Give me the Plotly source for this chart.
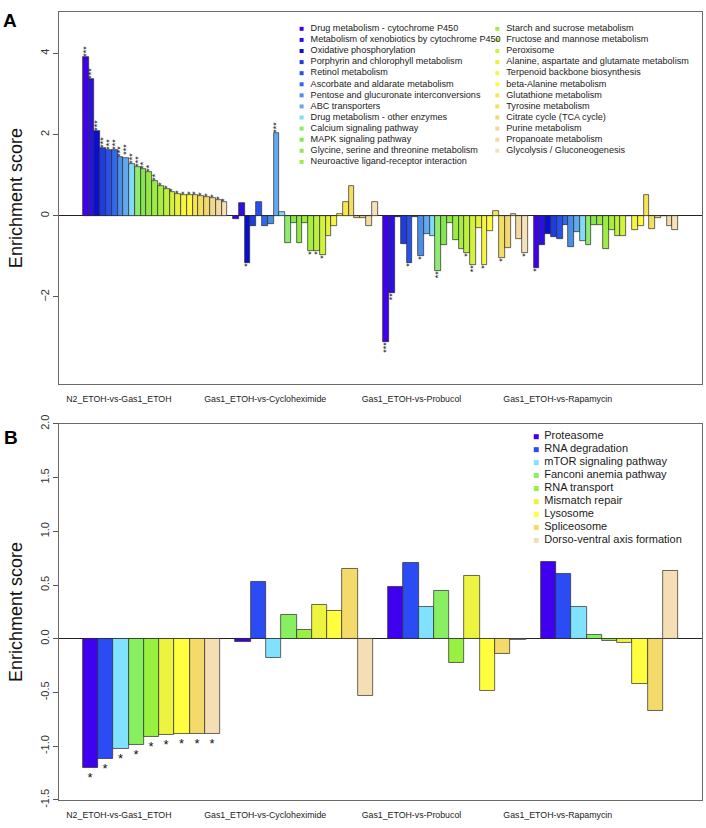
import plotly.graph_objects as go

# ---------------- data ----------------
groups = ["N2_ETOH-vs-Gas1_ETOH", "Gas1_ETOH-vs-Cycloheximide",
          "Gas1_ETOH-vs-Probucol", "Gas1_ETOH-vs-Rapamycin"]

pathways_a = [
    "Drug metabolism - cytochrome P450",
    "Metabolism of xenobiotics by cytochrome P450",
    "Oxidative phosphorylation",
    "Porphyrin and chlorophyll metabolism",
    "Retinol metabolism",
    "Ascorbate and aldarate metabolism",
    "Pentose and glucuronate interconversions",
    "ABC transporters",
    "Drug metabolism - other enzymes",
    "Calcium signaling pathway",
    "MAPK signaling pathway",
    "Glycine, serine and threonine metabolism",
    "Neuroactive ligand-receptor interaction",
    "Starch and sucrose metabolism",
    "Fructose and mannose metabolism",
    "Peroxisome",
    "Alanine, aspartate and glutamate metabolism",
    "Terpenoid backbone biosynthesis",
    "beta-Alanine metabolism",
    "Glutathione metabolism",
    "Tyrosine metabolism",
    "Citrate cycle (TCA cycle)",
    "Purine metabolism",
    "Propanoate metabolism",
    "Glycolysis / Gluconeogenesis",
]
colors_a = [
    "#4000F0", "#2A10E6", "#0A0ED2", "#1E3CE0", "#2850EE", "#3068EE",
    "#4A8EE8", "#62AAF0", "#82DAF8", "#8EEA70", "#86E650", "#92E848",
    "#9CEC44", "#A8EE40", "#BEF040", "#D2F240", "#E6F240", "#F6F444",
    "#FFFA40", "#F6E654", "#F4DE62", "#F2D872", "#F0D88C", "#F2DAA2",
    "#F5E2BC",
]
scores_a = [
    [3.92, 3.38, 2.10, 1.68, 1.63, 1.61, 1.45, 1.42, 1.28, 1.20, 1.15, 1.08,
     0.86, 0.74, 0.66, 0.58, 0.54, 0.51, 0.51, 0.50, 0.48, 0.47, 0.43, 0.38, 0.35],
    [-0.09, 0.32, -1.17, -0.24, 0.35, -0.24, -0.21, 2.04, 0.09, -0.67, -0.18,
     -0.67, -0.18, -0.87, -0.87, -0.96, -0.50, -0.24, 0.04, 0.35, 0.73, -0.05,
     -0.05, -0.24, 0.34],
    [-3.10, -1.90, -0.02, -0.69, -1.16, -0.02, -1.00, -0.44, -0.50, -1.35, -0.71,
     -0.18, -0.59, -0.83, -0.92, -1.22, -0.30, -1.22, -0.37, 0.11, -1.04, -0.80,
     0.05, -0.56, -0.91],
    [-1.29, -0.71, -0.45, -0.53, -0.57, -0.22, -0.78, -0.39, -0.63, -0.73, -0.22,
     -0.23, -0.82, -0.35, -0.49, -0.51, -0.01, -0.34, -0.25, 0.51, -0.33, -0.06,
     -0.01, -0.25, -0.36],
]
stars_a = [
    [3, 3, 3, 3, 3, 3, 3, 3, 3, 3, 2, 2, 2, 1, 1, 1, 1, 1, 1, 1, 1, 1, 1, 1, 1],
    [0, 0, 1, 0, 0, 0, 0, 3, 0, 0, 0, 0, 0, 1, 1, 1, 0, 0, 0, 0, 0, 0, 0, 0, 0],
    [3, 2, 0, 0, 1, 0, 1, 0, 0, 2, 0, 0, 0, 0, 1, 2, 0, 1, 0, 0, 1, 0, 0, 0, 1],
    [1, 0, 0, 0, 0, 0, 0, 0, 0, 0, 0, 0, 0, 0, 0, 0, 0, 0, 0, 0, 0, 0, 0, 0, 0],
]

pathways_b = ["Proteasome", "RNA degradation", "mTOR signaling pathway",
              "Fanconi anemia pathway", "RNA transport", "Mismatch repair",
              "Lysosome", "Spliceosome", "Dorso-ventral axis formation"]
colors_b = ["#4000F0", "#2B4BF5", "#80E2FF", "#88F060", "#98F040",
            "#ECF440", "#FFFF40", "#F4DA6A", "#F5DEB4"]
scores_b = [
    [-1.20, -1.12, -1.02, -0.985, -0.91, -0.893, -0.885, -0.885, -0.885],
    [-0.025, 0.534, -0.178, 0.227, 0.086, 0.313, 0.264, 0.647, -0.531],
    [0.485, 0.709, 0.301, 0.448, -0.227, 0.586, -0.485, -0.141, -0.006],
    [0.718, 0.605, 0.301, 0.034, -0.018, -0.040, -0.417, -0.666, 0.633],
]
stars_b = [
    [1, 1, 1, 1, 1, 1, 1, 1, 1],
    [0] * 9,
    [0] * 9,
    [0] * 9,
]

# ---------------- figure ----------------
W, H = 706, 828
ML, MR, MT, MB = 59, 3, 4, 28
PW, PH = W - ML - MR, H - MT - MB
A_TOP, A_BOT = 4, 380
B_TOP, B_BOT = 420, 800
LABEL_PX = [119, 265.5, 412, 558.5]   # horizontal centres of group names


def pdom(top, bot):
    return [(H - MB - bot) / PH, (H - MB - top) / PH]


def paper_x(px):
    return (px - ML) / PW


def paper_y(py):
    return (H - MB - py) / PH


dom_a = pdom(A_TOP, A_BOT)
dom_b = pdom(B_TOP, B_BOT)

fig = go.Figure()


def add_panel(scores, stars, names, cols, xa, ya, star_size, angle):
    n = len(names)
    for i, name in enumerate(names):
        xs, ys, ts = [], [], []
        for g in range(len(groups)):
            xs.append(g * (n + 1) + 1 + i + 0.5)
            ys.append(scores[g][i])
            ts.append("*" * stars[g][i])
        fig.add_trace(go.Bar(
            x=xs, y=ys, width=1.0, name=name, showlegend=False,
            marker=dict(color=cols[i], line=dict(color="#2a2a2a", width=0.7)),
            text=ts, textposition="outside", textangle=angle,
            constraintext="none", cliponaxis=False,
            textfont=dict(family="Liberation Sans", size=star_size, color="#111"),
            xaxis=xa, yaxis=ya, hoverinfo="x+y+name",
        ))
    return n


nA = add_panel(scores_a, stars_a, pathways_a, colors_a, "x", "y", 9, -90)
nB = add_panel(scores_b, stars_b, pathways_b, colors_b, "x2", "y2", 13, 0)


def add_legend(names, cols, col_x, y0, dy, per_col, top, bot, xa, ya,
               size, msize, gap):
    mx, my, tx = [], [], []
    for i in range(len(names)):
        col, row = divmod(i, per_col)
        px = col_x[col]
        py = y0 + row * dy
        mx.append(paper_x(px))
        tx.append(paper_x(px + gap))
        my.append((bot - py) / (bot - top))
    fig.add_trace(go.Scatter(
        x=mx, y=my, mode="markers",
        marker=dict(symbol="square", size=msize, color=cols, line=dict(width=0)),
        showlegend=False, hoverinfo="skip", xaxis=xa, yaxis=ya, cliponaxis=False))
    fig.add_trace(go.Scatter(
        x=tx, y=my, mode="text", text=names, textposition="middle right",
        textfont=dict(family="Liberation Sans", size=size, color="#1a1a1a"),
        showlegend=False, hoverinfo="skip", xaxis=xa, yaxis=ya, cliponaxis=False))


add_legend(pathways_a, colors_a, [302, 498], 21.0, 11.2, 13, A_TOP, A_BOT,
           "x3", "y3", 9.1, 4, 9)
add_legend(pathways_b, colors_b, [537], 433.0, 13.1, 9, B_TOP, B_BOT,
           "x4", "y4", 11, 5, 8)

frame = dict(showline=True, mirror=True, linecolor="#6a6a6a", linewidth=1,
             showgrid=False)
xtick = dict(tickfont=dict(family="Liberation Sans", size=8.8, color="#222"),
             ticks="outside", ticklen=6, tickcolor="rgba(0,0,0,0)")
ytick = dict(tickfont=dict(family="Liberation Sans", size=11, color="#333"),
             ticks="outside", ticklen=5, tickcolor="#555", tickangle=-90,
             zeroline=True, zerolinecolor="#222", zerolinewidth=1)
ytitle = dict(text="Enrichment score",
              font=dict(family="Liberation Sans", size=18, color="#111"),
              standoff=11)

span_a = len(groups) * (nA + 1) - 1
span_b = len(groups) * (nB + 1) - 1
range_a = [1 - 0.04 * span_a, 1 + span_a + 0.04 * span_a]
range_b = [1 - 0.04 * span_b, 1 + span_b + 0.04 * span_b]


def px_to_axis(px, rng):
    return rng[0] + (px - ML) / PW * (rng[1] - rng[0])


labels_a = [px_to_axis(p, range_a) for p in LABEL_PX]
labels_b = [px_to_axis(p, range_b) for p in LABEL_PX]

fig.update_layout(
    width=W, height=H, margin=dict(l=ML, r=MR, t=MT, b=MB),
    paper_bgcolor="white", plot_bgcolor="white", bargap=0,
    barmode="overlay", showlegend=False,
    xaxis=dict(domain=[0, 1], anchor="y", range=range_a,
               tickmode="array", tickvals=labels_a, ticktext=groups,
               **frame, **xtick),
    yaxis=dict(domain=dom_a, anchor="x", range=[-4.15, 5.02],
               tickmode="array", tickvals=[-2, 0, 2, 4],
               title=ytitle, **frame, **ytick),
    xaxis2=dict(domain=[0, 1], anchor="y2", range=range_b,
                tickmode="array", tickvals=labels_b, ticktext=groups,
                **frame, **xtick),
    yaxis2=dict(domain=dom_b, anchor="x2", range=[-1.5, 2.0],
                tickmode="array", tickvals=[-1.5, -1.0, -0.5, 0.0, 0.5, 1.0, 1.5, 2.0],
                ticktext=["-1.5", "-1.0", "-0.5", "0.0", "0.5", "1.0", "1.5", "2.0"],
                title=ytitle, **frame, **ytick),
    xaxis3=dict(domain=[0, 1], anchor="y3", range=[0, 1], visible=False,
                overlaying="x"),
    yaxis3=dict(domain=dom_a, anchor="x3", range=[0, 1], visible=False,
                overlaying="y"),
    xaxis4=dict(domain=[0, 1], anchor="y4", range=[0, 1], visible=False,
                overlaying="x2"),
    yaxis4=dict(domain=dom_b, anchor="x4", range=[0, 1], visible=False,
                overlaying="y2"),
    annotations=[
        dict(text="<b>A</b>", x=paper_x(10), y=paper_y(13), xref="paper",
             yref="paper", xanchor="center", yanchor="middle", showarrow=False,
             font=dict(family="Liberation Sans", size=19, color="#000")),
        dict(text="<b>B</b>", x=paper_x(11), y=paper_y(434), xref="paper",
             yref="paper", xanchor="center", yanchor="middle", showarrow=False,
             font=dict(family="Liberation Sans", size=19, color="#000")),
    ],
)

fig.write_html(
    "out.html",
    config={"displayModeBar": False},
    post_script=("document.body.style.margin='0';"
                 "document.body.style.padding='0';"
                 "var gd=document.querySelector('.plotly-graph-div');"
                 "if(gd&&gd.parentElement){gd.parentElement.style.fontSize='0';"
                 "gd.parentElement.style.lineHeight='0';}"),
)
